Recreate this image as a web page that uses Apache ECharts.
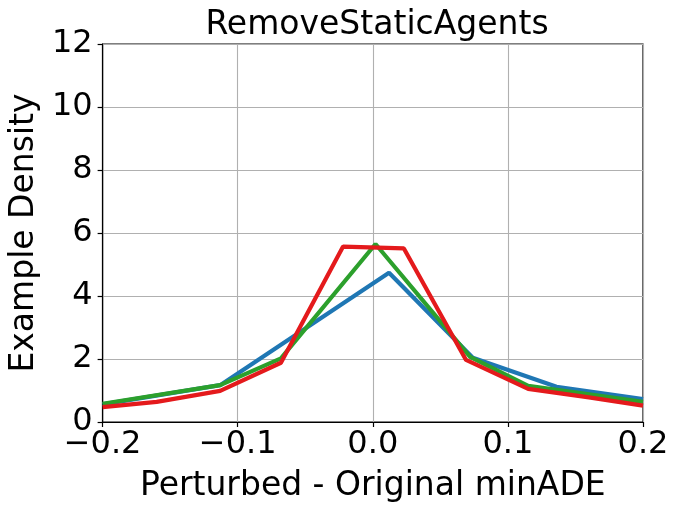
<!DOCTYPE html>
<html>
<head>
<meta charset="utf-8">
<script src="https://cdn.jsdelivr.net/npm/echarts@6/dist/echarts.min.js"></script>
<style>
  html, body { margin: 0; padding: 0; background: #fff; }
  #chart { width: 679px; height: 513px; }
</style>
</head>
<body>
<div id="chart"></div>
<script>
// values
const blueX = [-0.2, -0.113, 0.012, 0.074, 0.136, 0.2]
const blueY = [0.56, 1.17, 4.74, 2.04, 1.12, 0.73]

const greenX = [-0.2, -0.113, -0.068, 0.002, 0.072, 0.115, 0.2]
const greenY = [0.58, 1.17, 2.02, 5.65, 2.07, 1.15, 0.64]

const redX = [-0.2, -0.16, -0.113, -0.068, -0.022, 0.023, 0.069, 0.115, 0.16, 0.2]
const redY = [0.47, 0.64, 0.99, 1.88, 5.57, 5.51, 1.97, 1.05, 0.78, 0.52]

const colors = ['#1f77b4', '#2ca02c', '#e41a1c']
const font = 'DejaVu Sans'

function pairs(xs, ys) {
  return xs.map((x, i) => [x, ys[i]])
}

function line(xs, ys, color) {
  return {
    type: 'line',
    data: pairs(xs, ys),
    symbol: 'none',
    clip: true,
    lineStyle: { color: color, width: 4.2 },
    animation: false
  }
}

const chart = echarts.init(document.getElementById('chart'))
chart.setOption({
  animation: false,
  title: {
    text: 'RemoveStaticAgents',
    left: 372,
    top: 4,
    textAlign: 'center',
    textStyle: { fontFamily: font, fontSize: 33, fontWeight: 'normal', color: '#000' }
  },
  grid: {
    left: 101,
    right: 36,
    top: 44,
    bottom: 91,
    show: true,
    borderColor: '#000',
    borderWidth: 1.2
  },
  xAxis: {
    type: 'value',
    min: -0.2,
    max: 0.2,
    interval: 0.1,
    name: 'Perturbed - Original minADE',
    nameLocation: 'middle',
    nameGap: 48,
    nameTextStyle: { fontFamily: font, fontSize: 33, color: '#000' },
    axisLine: { show: true, onZero: false, lineStyle: { color: '#000', width: 1.2 } },
    axisTick: { show: true, length: 5, lineStyle: { color: '#000', width: 1.2 } },
    axisLabel: {
      fontFamily: font, fontSize: 32, color: '#000', margin: 7,
      formatter: v => v.toFixed(1).replace('-', '\u2212')
    },
    splitLine: { show: true, lineStyle: { color: '#b0b0b0', width: 1.1 } }
  },
  yAxis: {
    type: 'value',
    min: 0,
    max: 12,
    interval: 2,
    name: 'Example Density',
    nameLocation: 'middle',
    nameGap: 58,
    nameTextStyle: { fontFamily: font, fontSize: 33, color: '#000' },
    axisLine: { show: true, onZero: false, lineStyle: { color: '#000', width: 1.2 } },
    axisTick: { show: true, length: 5, lineStyle: { color: '#000', width: 1.2 } },
    axisLabel: { fontFamily: font, fontSize: 32, color: '#000', margin: 10 },
    splitLine: { show: true, lineStyle: { color: '#b0b0b0', width: 1.1 } }
  },
  series: [
    line(blueX, blueY, colors[0]),
    line(greenX, greenY, colors[1]),
    line(redX, redY, colors[2])
  ]
})
</script>
</body>
</html>
